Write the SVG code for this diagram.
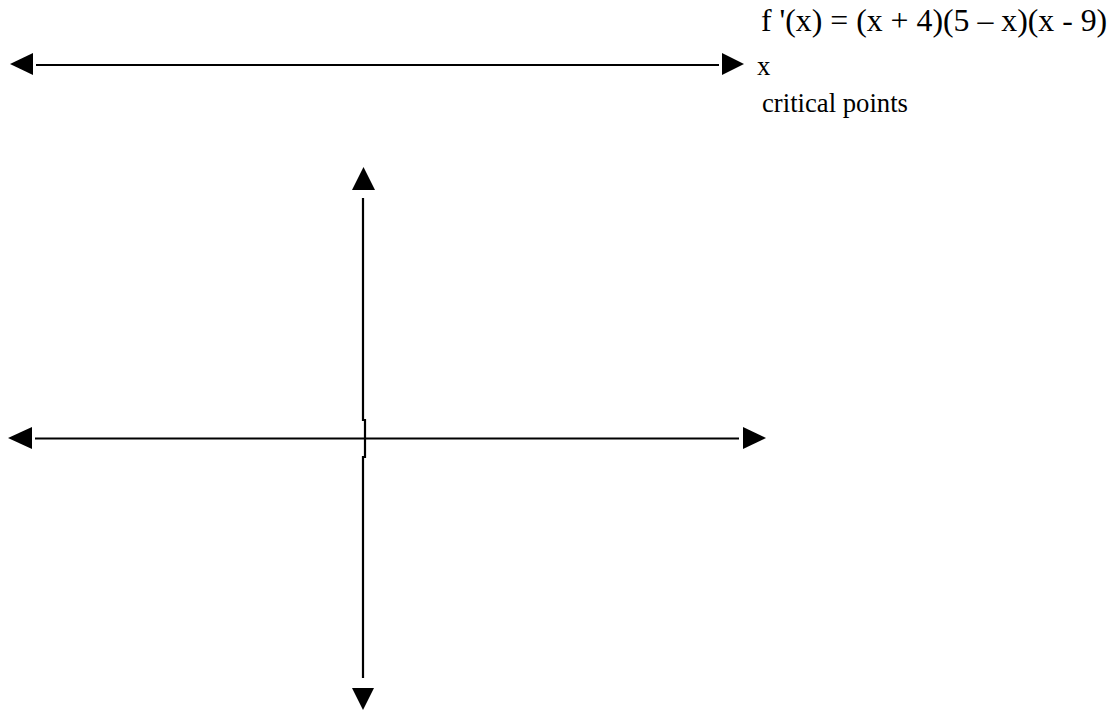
<svg xmlns="http://www.w3.org/2000/svg" width="1115" height="711" viewBox="0 0 1115 711">
<style>
.ax{stroke:#000;stroke-width:2.2;fill:none}
.hd{fill:#000}
.t{font-family:"Liberation Serif","Times New Roman",serif;font-size:26.7px;fill:#000}
.f{font-size:31.8px}
</style>
<rect width="1115" height="711" fill="#fff"/>
<g id="connectors">
<g id="top-axis">
<line class="ax" x1="36" y1="65" x2="719" y2="65"/>
<polygon class="hd" points="10,64 33,53 33,75"/>
<polygon class="hd" points="722,53 744,64 722,75"/>
</g>
<g id="h-axis">
<line class="ax" x1="35" y1="438.5" x2="739" y2="438.5"/>
<polygon class="hd" points="8,438 32,427 32,449"/>
<polygon class="hd" points="743,427 766,438 743,449"/>
</g>
<g id="v-axis">
<polyline class="ax" points="363,198 363,420 365,420 365,457 363,457 363,678"/>
<polygon class="hd" points="363.5,167 352,190 375,190"/>
<polygon class="hd" points="352,688 374,688 363,710"/>
</g>
</g>
<g id="labels">
<text class="t f" x="761" y="31">f '(x) = (x + 4)(5 – x)(x - 9)</text>
<text class="t" x="757" y="75">x</text>
<text class="t" x="762" y="112">critical points</text>
</g>
</svg>
